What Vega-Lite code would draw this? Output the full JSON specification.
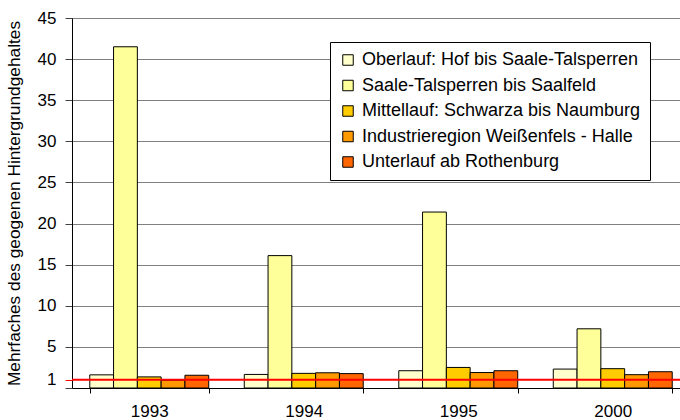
{
  "$schema": "https://vega.github.io/schema/vega-lite/v6.json",
  "autosize": "none",
  "padding": {"left": 72, "top": 18, "right": 0, "bottom": 32},
  "width": 608,
  "height": 370,
  "background": "white",
  "config": {
    "font": "Liberation Sans",
    "view": {"stroke": null},
    "axis": {"labelFont": "Liberation Sans", "titleFont": "Liberation Sans", "labelColor": "black", "titleColor": "black", "labelFontSize": 17, "titleFontSize": 17.3, "titleFontWeight": "normal"},
    "legend": {"labelFont": "Liberation Sans", "labelFontSize": 18, "labelColor": "black"}
  },
  "data": {
    "values": [
      {"year": "1993", "series": "Oberlauf: Hof bis Saale-Talsperren", "value": 1.6},
      {"year": "1993", "series": "Saale-Talsperren bis Saalfeld", "value": 41.5},
      {"year": "1993", "series": "Mittellauf: Schwarza bis Naumburg", "value": 1.35},
      {"year": "1993", "series": "Industrieregion Weißenfels - Halle", "value": 0.95},
      {"year": "1993", "series": "Unterlauf ab Rothenburg", "value": 1.55},
      {"year": "1994", "series": "Oberlauf: Hof bis Saale-Talsperren", "value": 1.65},
      {"year": "1994", "series": "Saale-Talsperren bis Saalfeld", "value": 16.1},
      {"year": "1994", "series": "Mittellauf: Schwarza bis Naumburg", "value": 1.78},
      {"year": "1994", "series": "Industrieregion Weißenfels - Halle", "value": 1.85},
      {"year": "1994", "series": "Unterlauf ab Rothenburg", "value": 1.75},
      {"year": "1995", "series": "Oberlauf: Hof bis Saale-Talsperren", "value": 2.1},
      {"year": "1995", "series": "Saale-Talsperren bis Saalfeld", "value": 21.4},
      {"year": "1995", "series": "Mittellauf: Schwarza bis Naumburg", "value": 2.5},
      {"year": "1995", "series": "Industrieregion Weißenfels - Halle", "value": 1.88},
      {"year": "1995", "series": "Unterlauf ab Rothenburg", "value": 2.1},
      {"year": "2000", "series": "Oberlauf: Hof bis Saale-Talsperren", "value": 2.3},
      {"year": "2000", "series": "Saale-Talsperren bis Saalfeld", "value": 7.2},
      {"year": "2000", "series": "Mittellauf: Schwarza bis Naumburg", "value": 2.35},
      {"year": "2000", "series": "Industrieregion Weißenfels - Halle", "value": 1.62},
      {"year": "2000", "series": "Unterlauf ab Rothenburg", "value": 1.98}
    ]
  },
  "encoding": {
    "y": {
      "field": "value", "type": "quantitative",
      "title": "Mehrfaches des geogenen Hintergrundgehaltes",
      "scale": {"domain": [0, 45], "nice": false},
      "axis": {
        "values": [0, 1, 5, 10, 15, 20, 25, 30, 35, 40, 45],
        "labelExpr": "datum.value == 0 ? '' : datum.label",
        "labelOverlap": false,
        "labelBound": false,
        "labelFlush": false,
        "domainColor": "black",
        "tickColor": {"condition": {"test": "datum.value == 1", "value": "red"}, "value": "#404040"},
        "tickSize": 7,
        "labelPadding": 9,
        "titlePadding": 14,
        "grid": true,
        "gridColor": {"condition": {"test": "datum.value <= 1", "value": "transparent"}, "value": "#808080"},
        "gridOpacity": 1
      }
    }
  },
  "layer": [
    {
      "mark": {"type": "bar", "stroke": "black", "strokeWidth": 1},
      "encoding": {
        "x": {
          "field": "year", "type": "nominal", "title": null,
          "scale": {"range": [0, 618], "paddingInner": 0.23, "paddingOuter": 0.115},
          "axis": {"labelAngle": 0, "tickBand": "extent", "domainColor": "black", "tickColor": "black", "tickSize": 5, "labelPadding": 10, "grid": false}
        },
        "xOffset": {"field": "series", "type": "nominal", "sort": null},
        "color": {
          "field": "series", "type": "nominal", "sort": null,
          "scale": {
            "domain": ["Oberlauf: Hof bis Saale-Talsperren", "Saale-Talsperren bis Saalfeld", "Mittellauf: Schwarza bis Naumburg", "Industrieregion Weißenfels - Halle", "Unterlauf ab Rothenburg"],
            "range": ["#FFFFCC", "#FFFF99", "#FFCC00", "#FF9900", "#FF6600"]
          },
          "legend": {
            "title": null,
            "orient": "none",
            "legendX": 258,
            "legendY": 24,
            "symbolType": "square",
            "symbolSize": 110,
            "symbolStrokeColor": "black",
            "symbolStrokeWidth": 1,
            "symbolOpacity": 1,
            "fillColor": "white",
            "strokeColor": "black",
            "padding": 9,
            "rowPadding": 7.5,
            "labelOffset": 5,
            "labelLimit": 500
          }
        }
      }
    },
    {
      "data": {"values": [{"value": 1}]},
      "mark": {"type": "rule", "color": "#FF0000", "strokeWidth": 2},
      "encoding": {}
    }
  ]
}
